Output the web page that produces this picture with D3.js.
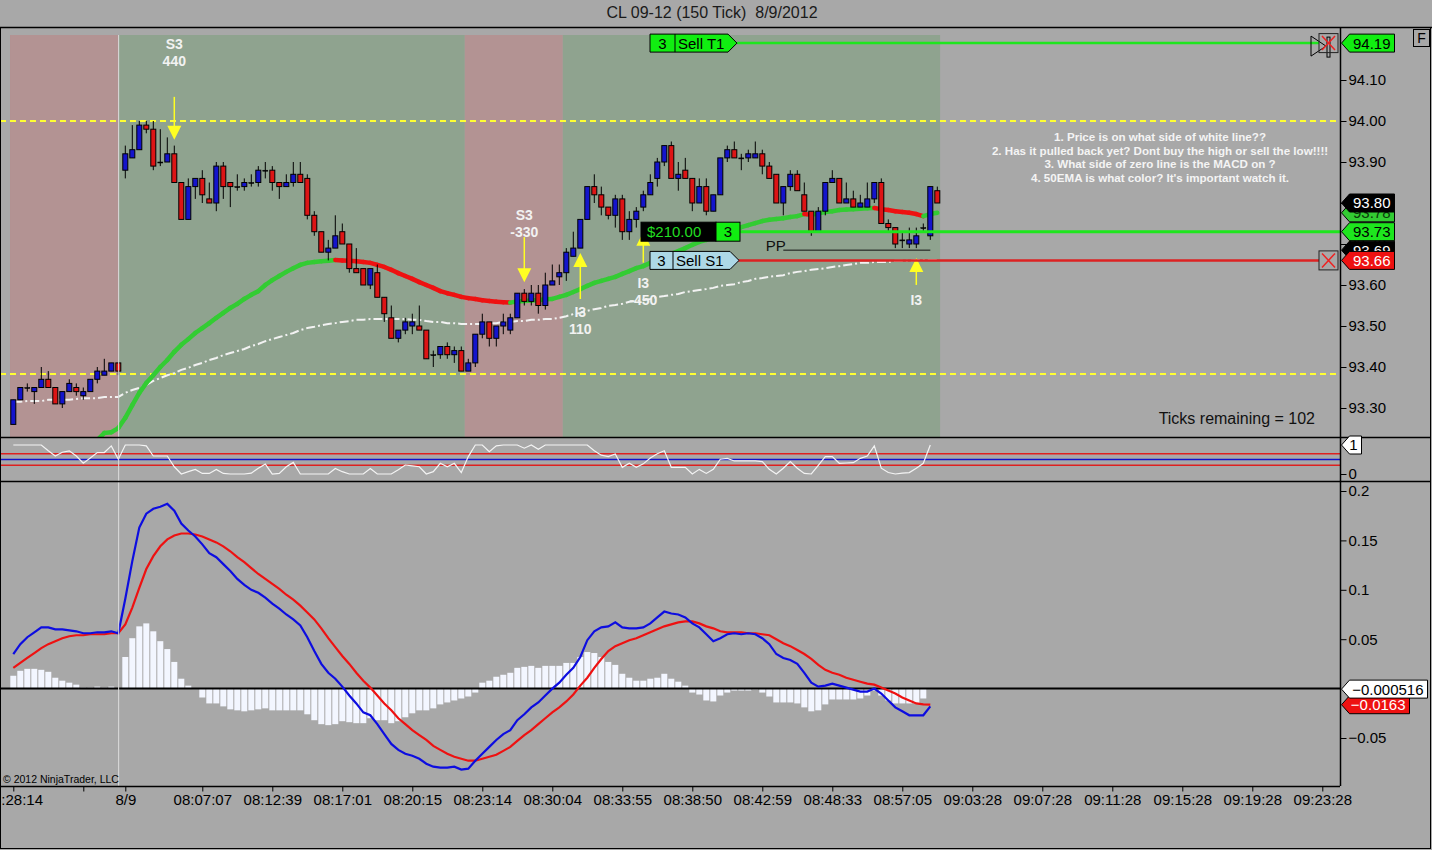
<!DOCTYPE html>
<html>
<head>
<meta charset="utf-8">
<script src="https://cdn.jsdelivr.net/npm/d3@7"></script>
<style>
body { margin: 0; background: #a8a8a8; }
svg { display: block; font-family: Arial, "Liberation Sans", sans-serif; }
</style>
</head>
<body>
<div id="chart"></div>
<script>
"use strict";

/* ---- data (bar index = one 150 tick bar) ---- */
var open = [
  93.26,93.32,93.35,93.34,93.35,93.37,93.35,93.31,93.34,93.35,
  93.33,93.34,93.37,93.38,93.39,93.41,93.88,93.91,93.93,93.99,
  93.98,93.90,93.90,93.92,93.85,93.76,93.84,93.86,93.81,93.80,
  93.89,93.85,93.84,93.84,93.85,93.85,93.88,93.88,93.85,93.84,
  93.85,93.87,93.86,93.77,93.73,93.68,93.69,93.73,93.70,93.64,
  93.64,93.60,93.63,93.57,93.52,93.47,93.49,93.50,93.50,93.49,
  93.43,93.43,93.45,93.43,93.44,93.39,93.41,93.48,93.51,93.47,
  93.50,93.49,93.52,93.58,93.56,93.58,93.55,93.60,93.62,93.63,
  93.67,93.69,93.76,93.84,93.82,93.79,93.77,93.81,93.73,93.76,
  93.79,93.82,93.86,93.90,93.94,93.86,93.88,93.86,93.80,93.84,
  93.78,93.82,93.91,93.93,93.91,93.91,93.91,93.92,93.89,93.87,
  93.80,93.84,93.87,93.82,93.78,93.73,93.78,93.85,93.86,93.80,
  93.81,93.79,93.79,93.81,93.85,93.75,93.74,93.71,93.70,93.70,
  93.74,93.72,93.83];
var high = [
  93.32,93.35,93.36,93.35,93.40,93.39,93.35,93.34,93.37,93.36,
  93.35,93.37,93.40,93.42,93.41,93.41,93.94,93.99,94.00,94.00,
  94.00,93.98,93.96,93.94,93.85,93.86,93.86,93.88,93.85,93.90,
  93.90,93.85,93.87,93.86,93.87,93.89,93.90,93.89,93.85,93.87,
  93.90,93.90,93.87,93.78,93.73,93.71,93.77,93.75,93.70,93.69,
  93.64,93.64,93.65,93.57,93.55,93.49,93.52,93.53,93.55,93.49,
  93.44,93.45,93.46,93.45,93.45,93.42,93.48,93.53,93.51,93.50,
  93.53,93.53,93.58,93.59,93.60,93.60,93.63,93.65,93.65,93.69,
  93.73,93.76,93.84,93.87,93.84,93.79,93.82,93.82,93.78,93.79,
  93.83,93.87,93.91,93.94,93.95,93.90,93.91,93.86,93.86,93.86,
  93.82,93.91,93.94,93.95,93.92,93.93,93.95,93.93,93.90,93.87,
  93.84,93.88,93.88,93.85,93.78,93.79,93.85,93.88,93.86,93.85,
  93.83,93.82,93.85,93.85,93.86,93.76,93.74,93.73,93.74,93.74,
  93.75,93.84,93.84];
var low = [
  93.26,93.32,93.34,93.31,93.35,93.35,93.31,93.30,93.34,93.33,
  93.32,93.34,93.36,93.38,93.39,93.38,93.86,93.91,93.93,93.97,
  93.88,93.89,93.90,93.85,93.76,93.76,93.81,93.80,93.80,93.78,
  93.81,93.79,93.83,93.83,93.84,93.84,93.86,93.83,93.81,93.84,
  93.84,93.85,93.76,93.72,93.68,93.66,93.69,93.70,93.63,93.63,
  93.60,93.59,93.57,93.51,93.47,93.46,93.48,93.48,93.49,93.42,
  93.40,93.42,93.42,93.41,93.39,93.39,93.40,93.47,93.45,93.45,
  93.48,93.48,93.52,93.55,93.55,93.53,93.54,93.60,93.60,93.61,
  93.67,93.69,93.76,93.80,93.77,93.76,93.74,93.71,93.71,93.74,
  93.78,93.82,93.84,93.89,93.86,93.83,93.86,93.78,93.80,93.77,
  93.78,93.82,93.90,93.91,93.88,93.90,93.91,93.87,93.86,93.80,
  93.77,93.83,93.83,93.78,93.72,93.73,93.77,93.85,93.80,93.80,
  93.79,93.79,93.79,93.80,93.75,93.73,93.69,93.69,93.69,93.69,
  93.73,93.71,93.80];
var close = [
  93.32,93.35,93.35,93.35,93.37,93.35,93.31,93.34,93.36,93.34,
  93.34,93.37,93.39,93.39,93.41,93.39,93.92,93.93,93.99,93.98,
  93.89,93.90,93.92,93.85,93.76,93.84,93.86,93.82,93.80,93.89,
  93.84,93.84,93.84,93.85,93.85,93.88,93.88,93.85,93.84,93.85,
  93.87,93.85,93.77,93.73,93.68,93.69,93.72,93.70,93.64,93.63,
  93.60,93.64,93.57,93.53,93.47,93.49,93.51,93.51,93.49,93.42,
  93.43,93.45,93.43,93.44,93.39,93.41,93.48,93.51,93.47,93.50,
  93.51,93.52,93.58,93.56,93.58,93.55,93.60,93.61,93.63,93.68,
  93.69,93.76,93.84,93.82,93.79,93.77,93.81,93.73,93.76,93.78,
  93.82,93.85,93.90,93.94,93.86,93.87,93.86,93.80,93.84,93.78,
  93.82,93.91,93.93,93.91,93.91,93.92,93.92,93.89,93.86,93.80,
  93.84,93.87,93.83,93.78,93.73,93.78,93.85,93.86,93.80,93.81,
  93.79,93.80,93.81,93.85,93.75,93.74,93.70,93.71,93.71,93.72,
  93.74,93.84,93.80];

// 50 EMA (coloured by slope)
var ema50 = [
  null,null,null,null,null,null,null,null,null,null,
  null,null,93.222,93.239,93.241,93.251,93.276,93.307,93.337,93.361,
  93.380,93.400,93.417,93.437,93.454,93.468,93.483,93.495,93.507,93.520,
  93.532,93.544,93.554,93.566,93.576,93.585,93.600,93.612,93.622,93.632,
  93.641,93.649,93.654,93.656,93.658,93.659,93.661,93.660,93.659,93.658,
  93.656,93.654,93.649,93.644,93.637,93.629,93.622,93.615,93.607,93.600,
  93.593,93.585,93.580,93.576,93.571,93.568,93.566,93.563,93.561,93.559,
  93.558,93.557,93.560,93.561,93.562,93.563,93.565,93.566,93.571,93.576,
  93.583,93.590,93.598,93.605,93.610,93.615,93.620,93.627,93.634,93.641,
  93.646,93.654,93.661,93.668,93.676,93.683,93.690,93.698,93.705,93.710,
  93.717,93.724,93.732,93.737,93.741,93.746,93.751,93.756,93.759,93.761,
  93.763,93.766,93.768,93.773,93.771,93.775,93.778,93.780,93.783,93.784,
  93.785,93.786,93.787,93.788,93.785,93.783,93.780,93.778,93.776,93.773,
  93.768,93.773,93.776];

// slow white average
var whiteLine = [
  93.315,93.315,93.317,93.317,93.317,93.320,93.320,93.320,93.320,93.322,
  93.324,93.324,93.324,93.327,93.327,93.327,93.337,93.344,93.349,93.356,
  93.366,93.373,93.380,93.385,93.393,93.398,93.405,93.410,93.417,93.422,
  93.429,93.434,93.439,93.444,93.451,93.456,93.463,93.468,93.473,93.478,
  93.483,93.490,93.495,93.498,93.502,93.505,93.507,93.510,93.512,93.515,
  93.515,93.517,93.517,93.517,93.517,93.517,93.517,93.515,93.515,93.512,
  93.510,93.510,93.507,93.507,93.505,93.505,93.505,93.505,93.507,93.507,
  93.510,93.510,93.512,93.512,93.515,93.515,93.517,93.517,93.520,93.524,
  93.529,93.532,93.537,93.541,93.544,93.549,93.551,93.554,93.559,93.561,
  93.563,93.566,93.571,93.573,93.576,93.578,93.583,93.585,93.588,93.590,
  93.593,93.598,93.600,93.602,93.607,93.610,93.615,93.617,93.620,93.622,
  93.624,93.629,93.632,93.634,93.637,93.639,93.641,93.644,93.646,93.649,
  93.651,93.654,93.654,93.656,93.656,93.656,93.659,93.659,93.659,93.661,
  93.661,93.661,93.661];

// middle panel oscillator (0..1)
var osc = [
  1.0,1.0,1.0,1.0,1.0,0.8,0.62,0.75,0.80,0.62,
  0.37,0.55,0.74,0.74,0.97,0.51,1.0,1.0,1.0,0.97,
  0.62,0.62,0.62,0.25,0.0,0.08,0.16,0.02,0.02,0.16,
  0.02,0.0,0.0,0.0,0.03,0.2,0.34,0.0,0.02,0.25,
  0.40,0.0,0.0,0.0,0.0,0.0,0.19,0.08,0.0,0.0,
  0.0,0.19,0.0,0.0,0.0,0.15,0.31,0.28,0.25,0.0,
  0.08,0.37,0.25,0.37,0.05,0.6,1.0,1.0,0.77,0.97,
  1.0,1.0,1.0,0.89,1.0,0.85,1.0,1.0,1.0,1.0,
  1.0,1.0,1.0,0.8,0.65,0.6,0.69,0.23,0.37,0.23,
  0.35,0.55,0.70,0.80,0.23,0.23,0.23,0.0,0.16,0.02,
  0.16,0.51,0.54,0.45,0.45,0.45,0.45,0.43,0.16,0.0,
  0.2,0.43,0.2,0.02,0.0,0.3,0.6,0.6,0.37,0.38,
  0.39,0.54,0.62,0.97,0.2,0.05,0.0,0.03,0.05,0.2,
  0.37,1.0];
var oscLevels = [0.7, 0.5, 0.3];

// MACD panel
var macd = [
  0.035,0.045,0.052,0.057,0.062,0.062,0.060,0.060,0.059,0.058,
  0.056,0.056,0.057,0.057,0.058,0.056,0.091,0.129,0.163,0.177,
  0.182,0.184,0.187,0.180,0.167,0.160,0.154,0.146,0.137,0.133,
  0.126,0.119,0.111,0.105,0.100,0.097,0.092,0.086,0.081,0.075,
  0.070,0.064,0.052,0.038,0.025,0.016,0.010,0.002,-0.007,-0.015,
  -0.024,-0.027,-0.036,-0.046,-0.056,-0.062,-0.066,-0.068,-0.071,-0.076,
  -0.079,-0.080,-0.080,-0.079,-0.082,-0.081,-0.073,-0.066,-0.059,-0.052,
  -0.046,-0.042,-0.032,-0.026,-0.019,-0.014,-0.007,0.000,0.006,0.014,
  0.021,0.032,0.049,0.058,0.062,0.063,0.067,0.062,0.061,0.061,
  0.062,0.066,0.072,0.078,0.076,0.075,0.072,0.066,0.062,0.055,
  0.048,0.051,0.055,0.056,0.055,0.056,0.055,0.051,0.045,0.035,
  0.031,0.029,0.025,0.016,0.006,0.002,0.003,0.005,0.003,0.001,
  -0.001,-0.003,-0.003,0.000,-0.005,-0.012,-0.019,-0.023,-0.027,-0.027,
  -0.027,-0.018];
var macdAvg = [
  0.021,0.026,0.031,0.036,0.041,0.045,0.048,0.051,0.053,0.054,
  0.054,0.055,0.055,0.055,0.056,0.056,0.065,0.082,0.102,0.121,
  0.134,0.144,0.151,0.155,0.157,0.157,0.156,0.154,0.151,0.148,
  0.144,0.139,0.133,0.128,0.122,0.116,0.111,0.106,0.101,0.095,
  0.090,0.084,0.077,0.070,0.061,0.051,0.042,0.033,0.025,0.016,
  0.008,0.001,-0.007,-0.015,-0.022,-0.030,-0.036,-0.042,-0.047,-0.052,
  -0.058,-0.062,-0.066,-0.069,-0.071,-0.073,-0.073,-0.071,-0.069,-0.067,
  -0.063,-0.059,-0.053,-0.047,-0.042,-0.036,-0.030,-0.024,-0.019,-0.013,
  -0.006,0.003,0.011,0.021,0.030,0.038,0.043,0.046,0.049,0.051,
  0.054,0.057,0.060,0.063,0.065,0.067,0.068,0.068,0.066,0.063,
  0.061,0.058,0.057,0.057,0.057,0.056,0.056,0.055,0.054,0.050,
  0.046,0.043,0.039,0.035,0.030,0.024,0.019,0.016,0.014,0.011,
  0.009,0.007,0.005,0.004,0.001,-0.002,-0.005,-0.009,-0.012,-0.015,
  -0.016,-0.0163];
var macdDiff = [
  0.013,0.018,0.020,0.020,0.019,0.017,0.011,0.008,0.006,0.004,
  0.001,0.001,0.002,0.001,0.002,0.0005,0.032,0.051,0.063,0.066,
  0.058,0.048,0.040,0.027,0.010,0.003,-0.0005,-0.009,-0.015,-0.015,
  -0.018,-0.021,-0.022,-0.023,-0.022,-0.021,-0.020,-0.022,-0.022,-0.022,
  -0.022,-0.022,-0.026,-0.032,-0.036,-0.037,-0.036,-0.033,-0.034,-0.035,
  -0.035,-0.030,-0.032,-0.032,-0.035,-0.033,-0.029,-0.025,-0.022,-0.022,
  -0.020,-0.016,-0.014,-0.012,-0.010,-0.008,-0.004,0.006,0.008,0.012,
  0.014,0.016,0.021,0.022,0.023,0.021,0.023,0.023,0.023,0.026,
  0.026,0.032,0.037,0.036,0.032,0.027,0.024,0.015,0.011,0.008,
  0.008,0.010,0.011,0.015,0.010,0.007,0.003,-0.004,-0.006,-0.012,
  -0.013,-0.007,-0.004,-0.002,-0.002,-0.002,-0.001,-0.004,-0.008,-0.014,
  -0.014,-0.014,-0.015,-0.019,-0.023,-0.022,-0.016,-0.011,-0.011,-0.011,
  -0.011,-0.010,-0.007,-0.002,-0.007,-0.012,-0.015,-0.015,-0.015,-0.015,
  -0.010,-0.000516];

// session shading (bar units) and key levels
var sessions = [
  { from: -0.47, to: 15.05, kind: "off" },
  { from: 15.05, to: 64.5, kind: "on" },
  { from: 64.5, to: 78.5, kind: "off" },
  { from: 78.5, to: 132.4, kind: "on" }
];
var sessionBreak = 15.05;
var pivotLevels = [94.00, 93.383];
var ppLevel = 93.685;
var targetPrice = 94.19;
var entryPrice = 93.73;
var stopPrice = 93.66;

// signals
var signalBars = [23, 73, 81, 90, 129];
var signalPrices = [93.954, 93.607, 93.678, 93.73, 93.666];
var signalDir = ["down", "down", "up", "up", "up"];
var signalText = [["S3", "440"], ["S3", "-330"], ["I3", "110"], ["I3", "-450"], ["I3"]];

// axes
var priceTicks = [93.30, 93.40, 93.50, 93.60, 93.70, 93.80, 93.90, 94.00, 94.10];
var macdTicks = [-0.05, 0.05, 0.1, 0.15, 0.2];
var oscTicks = [0];
var timeTickBars = [0, 10, 16, 27, 37, 47, 57, 67, 77, 87, 97, 107, 117, 127, 137, 147, 157, 167, 177, 187];
var timeTickLabels = ["08:28:14", "", "8/9", "08:07:07", "08:12:39", "08:17:01", "08:20:15", "08:23:14",
  "08:30:04", "08:33:55", "08:38:50", "08:42:59", "08:48:33", "08:57:05", "09:03:28", "09:07:28",
  "09:11:28", "09:15:28", "09:19:28", "09:23:28"];

var notes = [
  "1. Price is on what side of white line??",
  "2. Has it pulled back yet? Dont buy the high or sell the low!!!!",
  "3. What side of zero line is the MACD on ?",
  "4. 50EMA is what color? It's important watch it."
];

/* ---- layout ---- */
var W = 1432, H = 850, plotR = 1340;
var mainTop = 27, mainBot = 437, oscBot = 481, macdBot = 786;
var shadeTop = 35;

var svg = d3.select("#chart").append("svg")
  .attr("width", W).attr("height", H);

svg.append("rect").attr("width", W).attr("height", H).attr("fill", "#a8a8a8");

var x = d3.scaleLinear().domain([0, 1]).range([13.3, 20.3]);
var yP = d3.scaleLinear().domain([93.30, 94.10]).range([408, 80]);
var yO = d3.scaleLinear().domain([0, 1]).range([474, 445]);
var yM = d3.scaleLinear().domain([-0.05, 0.2]).range([738, 491]);

var defs = svg.append("defs");
defs.append("clipPath").attr("id", "clipMain").append("rect")
  .attr("x", 0).attr("y", mainTop).attr("width", plotR).attr("height", mainBot - mainTop);
defs.append("clipPath").attr("id", "clipOsc").append("rect")
  .attr("x", 0).attr("y", mainBot).attr("width", plotR).attr("height", oscBot - mainBot);
defs.append("clipPath").attr("id", "clipMacd").append("rect")
  .attr("x", 0).attr("y", oscBot).attr("width", plotR).attr("height", macdBot - oscBot);

// title
svg.append("text").attr("x", 712).attr("y", 18).attr("text-anchor", "middle")
  .attr("font-size", 16).attr("fill", "#1a1a1a").style("white-space", "pre")
  .text("CL 09-12 (150 Tick)  8/9/2012");

/* ---- main price panel ---- */
var main = svg.append("g").attr("clip-path", "url(#clipMain)");

main.selectAll("rect.sess").data(sessions).enter().append("rect")
  .attr("class", "sess")
  .attr("x", function (d) { return x(d.from); })
  .attr("y", shadeTop)
  .attr("width", function (d) { return x(d.to) - x(d.from); })
  .attr("height", mainBot - shadeTop)
  .attr("fill", function (d) { return d.kind == "off" ? "#b39393" : "#8fa38f"; });

main.selectAll("line.pivot").data(pivotLevels).enter().append("line")
  .attr("x1", 0).attr("x2", plotR)
  .attr("y1", function (d) { return yP(d); }).attr("y2", function (d) { return yP(d); })
  .attr("stroke", "#ffff33").attr("stroke-width", 2).attr("stroke-dasharray", "6,4");

// white slow average
var whitePts = whiteLine.map(function (v, i) { return [i, v]; });
main.append("path")
  .attr("d", d3.line().x(function (d) { return x(d[0]); }).y(function (d) { return yP(d[1]); })(whitePts))
  .attr("fill", "none").attr("stroke", "#f2f2f2").attr("stroke-width", 2)
  .attr("stroke-dasharray", "9,3,2,3");

// EMA segments, green when rising, red when falling
var emaSegs = [];
for (var i = 1; i < ema50.length; i++) {
  if (ema50[i - 1] == null || ema50[i] == null) continue;
  emaSegs.push({ i: i, a: ema50[i - 1], b: ema50[i], up: ema50[i] >= ema50[i - 1] });
}
main.selectAll("line.ema").data(emaSegs).enter().append("line")
  .attr("x1", function (d) { return x(d.i - 1); })
  .attr("x2", function (d) { return x(d.i); })
  .attr("y1", function (d) { return yP(d.a); })
  .attr("y2", function (d) { return yP(d.b); })
  .attr("stroke", function (d) { return d.up ? "#33cc33" : "#ee1111"; })
  .attr("stroke-width", 4.5).attr("stroke-linecap", "round");

// candles
var bars = open.map(function (o, i) {
  return { i: i, o: o, h: high[i], l: low[i], c: close[i] };
});
var cg = main.selectAll("g.bar").data(bars).enter().append("g").attr("class", "bar");
cg.append("line")
  .attr("x1", function (d) { return x(d.i); }).attr("x2", function (d) { return x(d.i); })
  .attr("y1", function (d) { return yP(d.h); }).attr("y2", function (d) { return yP(d.l); })
  .attr("stroke", "#000").attr("stroke-width", 1);
cg.append("rect")
  .attr("x", function (d) { return x(d.i) - 2.5; })
  .attr("width", 5)
  .attr("y", function (d) { return yP(Math.max(d.o, d.c)); })
  .attr("height", function (d) { return Math.max(1, Math.abs(yP(d.o) - yP(d.c))); })
  .attr("fill", function (d) {
    if (d.c == d.o) return "#000";
    return d.c > d.o ? "#1414cc" : "#dd1515";
  })
  .attr("stroke", "#000").attr("stroke-width", function (d) { return d.c == d.o ? 0.5 : 1; });

// signal arrows
var sigLayout = [
  { len: 43, textDy: -96 },
  { len: 45, textDy: -67 },
  { len: 46, textDy: 59 },
  { len: 31, textDy: 51 },
  { len: 27, textDy: 42 }
];
signalBars.forEach(function (b, k) {
  var cx = x(b), tip = yP(signalPrices[k]), L = sigLayout[k].len;
  var s = signalDir[k] == "down" ? -1 : 1;
  main.append("line").attr("x1", cx).attr("x2", cx)
    .attr("y1", tip + s * 12).attr("y2", tip + s * L)
    .attr("stroke", "#ffff22").attr("stroke-width", 1.5);
  main.append("path")
    .attr("d", "M" + cx + "," + tip + " L" + (cx - 7) + "," + (tip + s * 14) + " L" + (cx + 7) + "," + (tip + s * 14) + " Z")
    .attr("fill", "#ffff22");
  signalText[k].forEach(function (t, j) {
    main.append("text").attr("x", cx).attr("y", tip + sigLayout[k].textDy + j * 17)
      .attr("dy", "0.35em").attr("text-anchor", "middle")
      .attr("font-size", 14).attr("font-weight", "bold").attr("fill", "#f2f2f2")
      .text(t);
  });
});

// position / order lines
var ordX = x(91) - 0.3;
main.append("line").attr("x1", ordX + 87).attr("x2", 1319)
  .attr("y1", yP(targetPrice)).attr("y2", yP(targetPrice))
  .attr("stroke", "#1ee61e").attr("stroke-width", 2.5);
main.append("line").attr("x1", ordX + 88).attr("x2", 1319)
  .attr("y1", yP(stopPrice)).attr("y2", yP(stopPrice))
  .attr("stroke", "#dd2222").attr("stroke-width", 2.5);
main.append("line").attr("x1", ordX + 90).attr("x2", plotR)
  .attr("y1", yP(entryPrice)).attr("y2", yP(entryPrice))
  .attr("stroke", "#1ee61e").attr("stroke-width", 3);

// PP
main.append("line").attr("x1", x(110)).attr("x2", x(131))
  .attr("y1", yP(ppLevel)).attr("y2", yP(ppLevel))
  .attr("stroke", "#111").attr("stroke-width", 1);
main.append("text").attr("x", x(107.5)).attr("y", yP(ppLevel) + 1)
  .attr("font-size", 15).attr("fill", "#111").text("PP");

function orderTag(y, fill, qty, name, w1, w2) {
  var h = 18, y0 = y - h / 2, x0 = ordX;
  var g = main.append("g");
  g.append("path")
    .attr("d", "M" + x0 + "," + y0 + " H" + (x0 + w1 + w2) + " L" + (x0 + w1 + w2 + 9) + "," + y +
      " L" + (x0 + w1 + w2) + "," + (y0 + h) + " H" + x0 + " Z")
    .attr("fill", fill).attr("stroke", "#000").attr("stroke-width", 1);
  g.append("line").attr("x1", x0 + w1).attr("x2", x0 + w1).attr("y1", y0).attr("y2", y0 + h)
    .attr("stroke", "#000");
  g.append("text").attr("x", x0 + w1 / 2).attr("y", y).attr("dy", "0.36em")
    .attr("text-anchor", "middle").attr("font-size", 15).attr("fill", "#000").text(qty);
  g.append("text").attr("x", x0 + w1 + 3).attr("y", y).attr("dy", "0.36em")
    .attr("font-size", 15).attr("fill", "#000").text(name);
}
orderTag(yP(targetPrice), "#11ee11", "3", "Sell T1", 25, 53);
orderTag(yP(stopPrice), "#add8e6", "3", "Sell S1", 23, 57);

// open position P/L box
(function () {
  var y = yP(entryPrice), h = 19, x0 = ordX - 9;
  main.append("rect").attr("x", x0).attr("y", y - h / 2).attr("width", 75).attr("height", h)
    .attr("fill", "#000").attr("stroke", "#000");
  main.append("text").attr("x", x0 + 6).attr("y", y).attr("dy", "0.36em")
    .attr("font-size", 15).attr("fill", "#22dd22").text("$210.00");
  main.append("rect").attr("x", x0 + 75).attr("y", y - h / 2).attr("width", 24).attr("height", h)
    .attr("fill", "#11ee11").attr("stroke", "#000");
  main.append("text").attr("x", x0 + 87).attr("y", y).attr("dy", "0.36em")
    .attr("text-anchor", "middle").attr("font-size", 15).attr("fill", "#000").text("3");
})();

// exit boxes
function xBox(y) {
  main.append("rect").attr("x", 1319).attr("y", y - 9.5).attr("width", 19).attr("height", 19)
    .attr("fill", "none").attr("stroke", "#222");
  main.append("path")
    .attr("d", "M1322," + (y - 7) + " L1335," + (y + 7) + " M1335," + (y - 7) + " L1322," + (y + 7))
    .attr("stroke", "#ee2222").attr("stroke-width", 1.5);
}
main.append("path")
  .attr("d", "M1311," + (yP(targetPrice) - 7) + " L1326," + (yP(targetPrice) + 3) + " L1311," + (yP(targetPrice) + 13) + " Z")
  .attr("fill", "none").attr("stroke", "#000");
main.append("rect").attr("x", 1327).attr("y", yP(targetPrice) - 6).attr("width", 3).attr("height", 20)
  .attr("fill", "none").attr("stroke", "#000");
xBox(yP(targetPrice));
xBox(yP(stopPrice));

// notes
notes.forEach(function (t, k) {
  svg.append("text").attr("x", 1160).attr("y", 137 + k * 13.6).attr("dy", "0.35em")
    .attr("text-anchor", "middle").attr("font-size", 11.6).attr("font-weight", "bold")
    .attr("fill", "#f4f4f4").text(t);
});

svg.append("text").attr("x", 1315).attr("y", 424).attr("text-anchor", "end")
  .attr("font-size", 16).attr("fill", "#111").text("Ticks remaining = 102");

/* ---- oscillator panel ---- */
var og = svg.append("g").attr("clip-path", "url(#clipOsc)");
og.selectAll("line.lvl").data(oscLevels).enter().append("line")
  .attr("x1", 0).attr("x2", plotR)
  .attr("y1", function (d) { return yO(d); }).attr("y2", function (d) { return yO(d); })
  .attr("stroke", function (d) { return d == 0.5 ? "#1010cc" : "#dd2020"; })
  .attr("stroke-width", 1.5);
og.append("path")
  .attr("d", d3.line().x(function (d, i) { return x(i); }).y(function (d) { return yO(d); })(osc))
  .attr("fill", "none").attr("stroke", "#f4f4f4").attr("stroke-width", 1.2);

/* ---- MACD panel ---- */
var mg = svg.append("g").attr("clip-path", "url(#clipMacd)");
mg.selectAll("rect.hist").data(macdDiff).enter().append("rect")
  .attr("x", function (d, i) { return x(i) - 3; })
  .attr("width", 6)
  .attr("y", function (d) { return Math.min(yM(0), yM(d)); })
  .attr("height", function (d) { return Math.abs(yM(d) - yM(0)); })
  .attr("fill", "#f3f6ff");
mg.append("line").attr("x1", 0).attr("x2", plotR).attr("y1", yM(0)).attr("y2", yM(0))
  .attr("stroke", "#000").attr("stroke-width", 2);
mg.append("path")
  .attr("d", d3.line().x(function (d, i) { return x(i); }).y(function (d) { return yM(d); })(macdAvg))
  .attr("fill", "none").attr("stroke", "#ee1111").attr("stroke-width", 2.2);
mg.append("path")
  .attr("d", d3.line().x(function (d, i) { return x(i); }).y(function (d) { return yM(d); })(macd))
  .attr("fill", "none").attr("stroke", "#0d0de0").attr("stroke-width", 2.2);

// session break line through all panels
svg.append("line").attr("x1", x(sessionBreak)).attr("x2", x(sessionBreak))
  .attr("y1", shadeTop).attr("y2", macdBot)
  .attr("stroke", "#dcdcdc").attr("stroke-width", 1);

svg.append("text").attr("x", 3).attr("y", 783).attr("font-size", 10.5).attr("fill", "#000")
  .text("\u00a9 2012 NinjaTrader, LLC");

/* ---- frames ---- */
svg.append("rect").attr("x", 0.5).attr("y", mainTop + 0.5).attr("width", W - 2).attr("height", H - mainTop - 2)
  .attr("fill", "none").attr("stroke", "#000");
svg.append("line").attr("x1", 0).attr("x2", W).attr("y1", mainTop + 0.5).attr("y2", mainTop + 0.5)
  .attr("stroke", "#000").attr("stroke-width", 1.5);
[mainBot, oscBot].forEach(function (yy) {
  svg.append("line").attr("x1", 0).attr("x2", W - 1).attr("y1", yy + 0.5).attr("y2", yy + 0.5)
    .attr("stroke", "#000").attr("stroke-width", 1.5);
});
svg.append("line").attr("x1", plotR + 0.5).attr("x2", plotR + 0.5).attr("y1", mainTop).attr("y2", macdBot)
  .attr("stroke", "#000").attr("stroke-width", 1.5);
svg.append("line").attr("x1", 0).attr("x2", plotR).attr("y1", macdBot + 0.5).attr("y2", macdBot + 0.5)
  .attr("stroke", "#000").attr("stroke-width", 1.5);

/* ---- axes ---- */
function styleAxis(g) {
  g.select(".domain").remove();
  g.selectAll("line").attr("stroke", "#000");
  g.selectAll("text").attr("font-size", 15).attr("fill", "#000").attr("font-family", "Arial, 'Liberation Sans', sans-serif");
}
svg.append("g").attr("transform", "translate(" + (plotR + 0.5) + ",0)")
  .call(d3.axisRight(yP).tickValues(priceTicks).tickFormat(d3.format(".2f")).tickSize(6).tickPadding(2))
  .call(styleAxis);
svg.append("g").attr("transform", "translate(" + (plotR + 0.5) + ",0)")
  .call(d3.axisRight(yO).tickValues(oscTicks).tickFormat(d3.format("d")).tickSize(6).tickPadding(2))
  .call(styleAxis);
svg.append("g").attr("transform", "translate(" + (plotR + 0.5) + ",0)")
  .call(d3.axisRight(yM).tickValues(macdTicks).tickFormat(d3.format("~g")).tickSize(6).tickPadding(2))
  .call(styleAxis);

svg.append("g").attr("transform", "translate(0," + (macdBot + 0.5) + ")")
  .call(d3.axisBottom(x).tickValues(timeTickBars)
    .tickFormat(function (d, k) { return timeTickLabels[k]; }).tickSize(5).tickPadding(3))
  .call(styleAxis);

/* ---- value tags on the right axis ---- */
function valueTag(y, w, fill, txtColor, txt) {
  var x0 = plotR + 1.5, h = 18;
  var g = svg.append("g");
  g.append("path")
    .attr("d", "M" + x0 + "," + y + " L" + (x0 + 8) + "," + (y - h / 2) + " H" + (x0 + w) +
      " V" + (y + h / 2) + " H" + (x0 + 8) + " Z")
    .attr("fill", fill).attr("stroke", "#000").attr("stroke-width", 1);
  g.append("text").attr("x", x0 + w - 4).attr("y", y).attr("dy", "0.36em").attr("text-anchor", "end")
    .attr("font-size", 15).attr("fill", txtColor).text(txt);
}
var lastEma = ema50[ema50.length - 1];
var f2 = d3.format(".2f");
valueTag(yP(lastEma), 53, "#33cc33", "#0a3a0a", f2(lastEma));
valueTag(yP(close[close.length - 1]), 53, "#000", "#fff", f2(close[close.length - 1]));
valueTag(yP(ppLevel), 53, "#000", "#fff", f2(ppLevel));
valueTag(yP(entryPrice), 53, "#1ee61e", "#000", f2(entryPrice));
valueTag(yP(stopPrice), 53, "#ee1111", "#fff", f2(stopPrice));
valueTag(yP(targetPrice), 53, "#11ee11", "#000", f2(targetPrice));
valueTag(yO(osc[osc.length - 1]), 20, "#fff", "#000", d3.format("d")(osc[osc.length - 1]));
var f3 = d3.format(".3~r");
valueTag(yM(macdAvg[macdAvg.length - 1]), 68, "#ee1111", "#fff", f3(macdAvg[macdAvg.length - 1]));
valueTag(yM(macdDiff[macdDiff.length - 1]), 86, "#fff", "#000", f3(macdDiff[macdDiff.length - 1]));

// "F" button
svg.append("rect").attr("x", 1413.5).attr("y", 29.5).attr("width", 16).attr("height", 17)
  .attr("fill", "none").attr("stroke", "#000");
svg.append("text").attr("x", 1421.5).attr("y", 43).attr("text-anchor", "middle")
  .attr("font-size", 14).attr("fill", "#000").text("F");
</script>
</body>
</html>
